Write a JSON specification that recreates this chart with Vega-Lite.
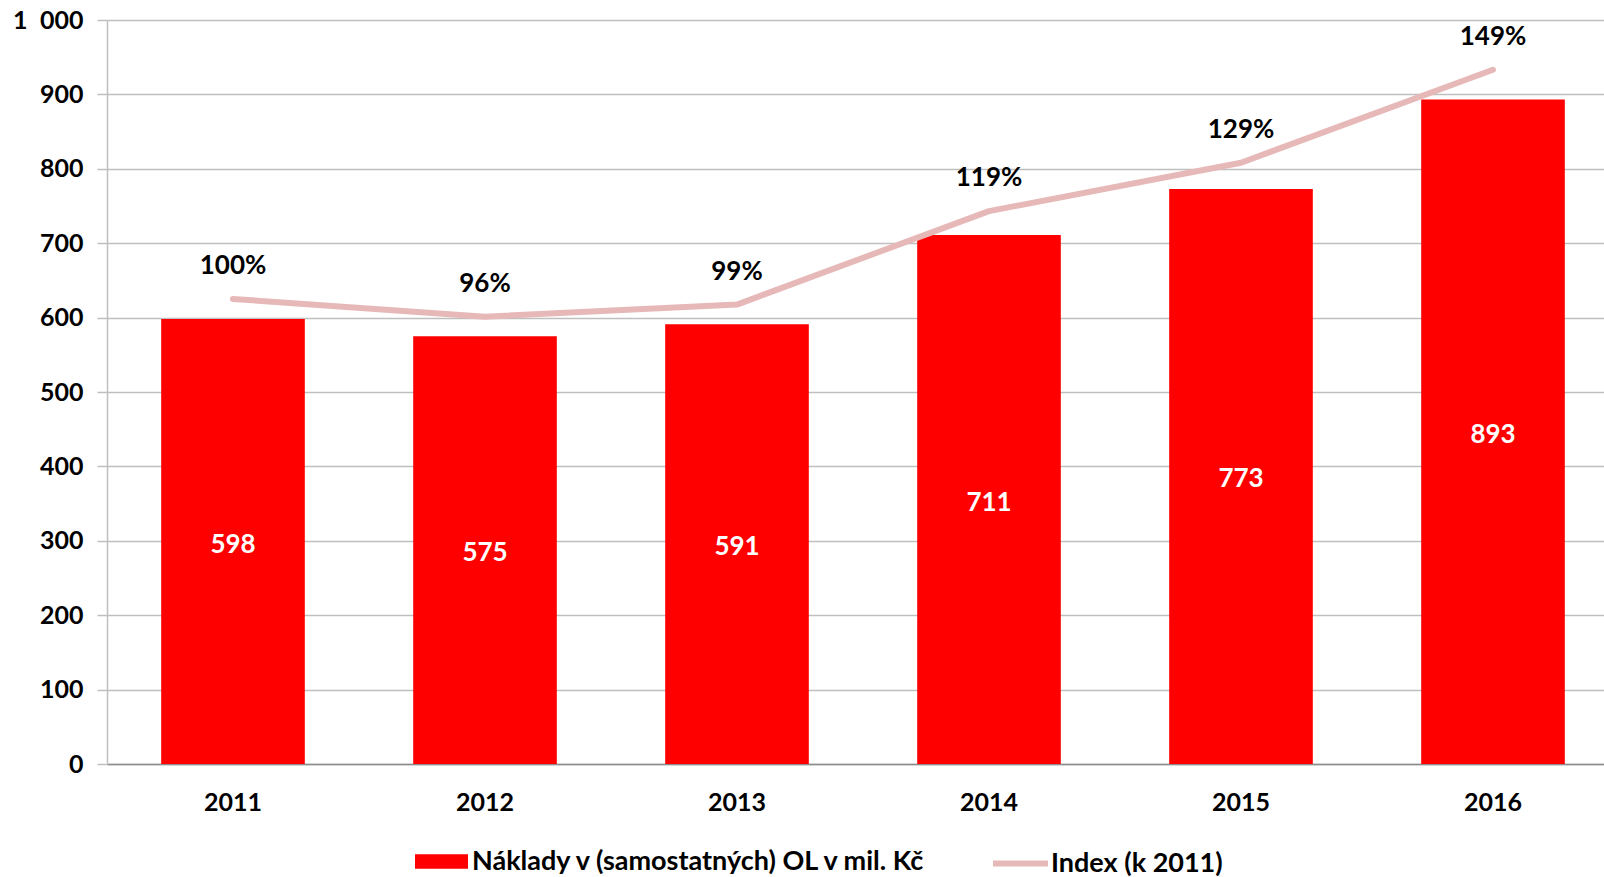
{
  "$schema": "https://vega.github.io/schema/vega-lite/v6.json",
  "autosize": "none",
  "width": 1512,
  "height": 744,
  "padding": {"left": 107, "top": 20, "right": 0, "bottom": 113},
  "background": "white",
  "config": {
    "font": "Lato",
    "view": {"stroke": null},
    "axis": {"labelFont": "Lato", "labelFontWeight": "bold", "labelColor": "#000000"},
    "legend": {"labelFont": "Lato", "labelFontWeight": "bold", "labelColor": "#000000", "labelFontSize": 27, "labelLimit": 0}
  },
  "data": {
    "values": [
      {"rok": "2011", "naklady": 598, "index": 1.0},
      {"rok": "2012", "naklady": 575, "index": 0.962},
      {"rok": "2013", "naklady": 591, "index": 0.988},
      {"rok": "2014", "naklady": 711, "index": 1.189},
      {"rok": "2015", "naklady": 773, "index": 1.293},
      {"rok": "2016", "naklady": 893, "index": 1.493}
    ]
  },
  "encoding": {
    "x": {
      "field": "rok",
      "type": "nominal",
      "scale": {"paddingInner": 0.43, "paddingOuter": 0.215},
      "axis": {
        "title": null,
        "labelAngle": 0,
        "labelFontSize": 25,
        "labelPadding": 26,
        "ticks": false,
        "domainColor": "#8C8C8C",
        "domainWidth": 1.5,
        "grid": false
      }
    }
  },
  "layer": [
    {
      "mark": {"type": "bar", "color": "#FF0000"},
      "encoding": {
        "y": {
          "field": "naklady",
          "type": "quantitative",
          "scale": {"domain": [0, 1000], "nice": false},
          "axis": {
            "title": null,
            "values": [0, 100, 200, 300, 400, 500, 600, 700, 800, 900, 1000],
            "labelExpr": "replace(format(datum.value, ','), ',', '\u2002')",
            "labelFontSize": 25,
            "labelPadding": 14,
            "tickSize": 10,
            "tickColor": "#BFBFBF",
            "tickWidth": 1.5,
            "domainColor": "#BFBFBF",
            "domainWidth": 1.5,
            "gridColor": "#BFBFBF",
            "gridWidth": 1.5,
            "grid": true
          }
        },
        "color": {
          "datum": "Náklady v (samostatných) OL v mil. Kč",
          "scale": {"range": ["#FF0000"]},
          "legend": {
            "title": null,
            "orient": "none",
            "legendX": 308,
            "legendY": 815,
            "symbolType": "M-1,-0.27H1V0.27H-1Z",
            "symbolSize": 2809,
            "symbolStrokeWidth": 0,
            "labelOffset": 4
          }
        }
      }
    },
    {
      "mark": {"type": "text", "color": "white", "fontSize": 26, "fontWeight": "bold", "font": "Lato", "baseline": "middle", "dy": 3},
      "encoding": {
        "y": {"field": "naklady", "type": "quantitative", "scale": {"domain": [0, 2000], "nice": false}, "axis": null},
        "text": {"field": "naklady", "type": "quantitative"}
      }
    },
    {
      "mark": {"type": "line", "strokeWidth": 6, "strokeCap": "round", "strokeJoin": "round"},
      "encoding": {
        "y": {"field": "index", "type": "quantitative", "scale": {"domain": [0, 1.6], "nice": false}, "axis": null},
        "stroke": {
          "datum": "Index (k 2011)",
          "scale": {"range": ["#E6B9B8"]},
          "legend": {
            "title": null,
            "orient": "none",
            "legendX": 883,
            "legendY": 813,
            "symbolType": "stroke",
            "symbolSize": 3025,
            "symbolStrokeWidth": 6,
            "labelOffset": 0
          }
        }
      }
    },
    {
      "mark": {"type": "text", "color": "black", "fontSize": 26, "fontWeight": "bold", "font": "Lato", "baseline": "middle", "dy": -33},
      "encoding": {
        "y": {"field": "index", "type": "quantitative", "scale": {"domain": [0, 1.6], "nice": false}, "axis": null},
        "text": {"field": "index", "type": "quantitative", "format": ".0%"}
      }
    }
  ],
  "resolve": {"scale": {"y": "independent"}}
}
